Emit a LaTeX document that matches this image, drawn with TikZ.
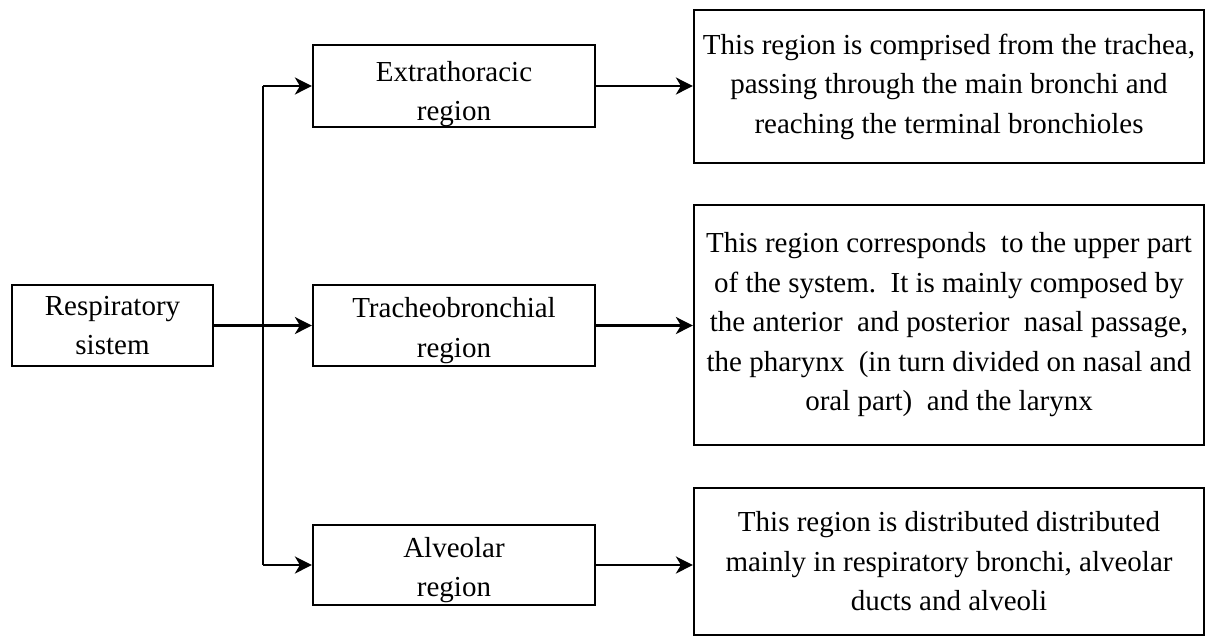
\documentclass[tikz,border=0pt]{standalone}
\usepackage{fontspec}
\setmainfont{Liberation Serif}
\usetikzlibrary{arrows.meta}
\begin{document}
\begin{tikzpicture}[x=1pt,y=-1pt,
  box/.style={draw, line width=2.2pt, align=center, inner sep=0pt,
    font=\fontsize{29}{39.5}\selectfont},
  arr/.style={line width=2.2pt, -{Stealth[length=17pt,width=17pt,inset=5pt]}}]
\useasboundingbox (0,0) rectangle (1217,638);
\node[box, minimum width=201pt, minimum height=81pt] (resp) at (112.5,325.5) {Respiratory\\sistem};
\node[box, minimum width=282pt, minimum height=80pt] (extra) at (454,86) {\rule{0pt}{36pt}Extrathoracic\\region};
\node[box, minimum width=282pt, minimum height=81pt] (trach) at (454,325.5) {\rule{0pt}{30pt}Tracheobronchial\\region};
\node[box, minimum width=282pt, minimum height=80pt] (alv) at (454,565) {\rule{0pt}{30pt}Alveolar\\region};
\node[box, minimum width=510pt, minimum height=153pt] (d1) at (949,86.5) {This region is comprised from the trachea,\\passing through the main bronchi and\\reaching the terminal bronchioles};
\node[box, minimum width=510pt, minimum height=240pt] (d2) at (949,325) {This region corresponds\ \ to the upper part\\of the system.\ \ It is mainly composed by\\the anterior\ \ and posterior\ \ nasal passage,\\the pharynx\ \ (in turn divided on nasal and\\oral part)\ \ and the larynx};
\node[box, minimum width=510pt, minimum height=147pt] (d3) at (949,561.5) {This region is distributed distributed\\mainly in respiratory bronchi, alveolar\\ducts and alveoli};
\coordinate (top) at (263,86);
\coordinate (bot) at (263,565);
\draw[arr] (resp.east) -- (trach.west);
\draw[line width=2.2pt] (top) -- (bot);
\draw[arr] (top) -- (extra.west);
\draw[arr] (bot) -- (alv.west);
\draw[arr] (extra.east) -- (d1.west |- extra.east);
\draw[arr] (trach.east) -- (d2.west |- trach.east);
\draw[arr] (alv.east) -- (d3.west |- alv.east);
\end{tikzpicture}
\end{document}
